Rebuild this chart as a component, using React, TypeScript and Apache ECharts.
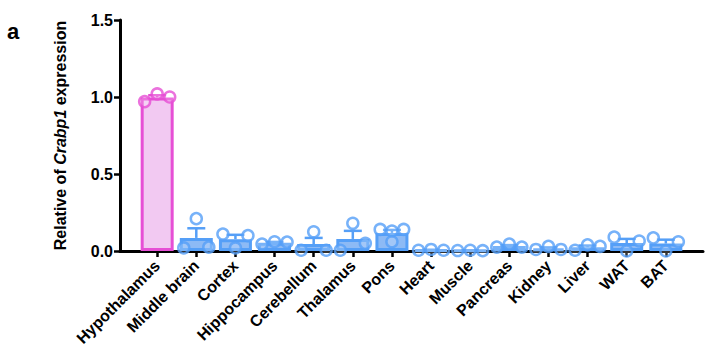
import React, { useEffect, useRef } from "react";
import * as echarts from "echarts";

const categories = [
  "Hypothalamus", "Middle brain", "Cortex", "Hippocampus", "Cerebellum", "Thalamus", "Pons",
  "Heart", "Muscle", "Pancreas", "Kidney", "Liver", "WAT", "BAT",
];

// individual replicate values (left, centre, right)
const hypothalamus = [0.97, 1.02, 1.0];
const middleBrain = [0.02, 0.21, 0.025];
const cortex = [0.11, 0.02, 0.1];
const hippocampus = [0.045, 0.06, 0.058];
const cerebellum = [0.005, 0.125, 0.005];
const thalamus = [0.005, 0.18, 0.05];
const pons = [0.14, 0.13, 0.06, 0.14];
const heart = [0.005, 0.01, 0.005];
const muscle = [0.003, 0.005, 0.002];
const pancreas = [0.025, 0.045, 0.025];
const kidney = [0.01, 0.03, 0.01];
const liver = [0.005, 0.04, 0.03];
const wat = [0.09, 0.0, 0.065];
const bat = [0.085, 0.0, 0.06];

const groups = [
  hypothalamus, middleBrain, cortex, hippocampus, cerebellum, thalamus, pons,
  heart, muscle, pancreas, kidney, liver, wat, bat,
];

const yTicks = [0, 0.5, 1.0, 1.5];

const PINK = "#e64fd5";
const PINK_FILL = "#f2c9f2";
const BLUE = "#559ff7";
const BLUE_FILL = "#8dbaf5";
const FONT = "Liberation Sans, Arial, sans-serif";

const mean = (a: number[]) => a.reduce((s, v) => s + v, 0) / a.length;
const sem = (a: number[]) => {
  const m = mean(a);
  const sd = Math.sqrt(a.reduce((s, v) => s + (v - m) * (v - m), 0) / (a.length - 1));
  return sd / Math.sqrt(a.length);
};
const spread = (n: number, j: number) => {
  if (n === 4) return [-0.3, 0, 0, 0.3][j];
  return n === 1 ? 0 : -0.32 + (0.64 * j) / (n - 1);
};

export default function App() {
  const ref = useRef<HTMLDivElement>(null);
  useEffect(() => {
    document.body.style.margin = "0";
    if (!ref.current) return;
    const chart = echarts.init(ref.current, undefined, { renderer: "svg" });
    const means = groups.map(mean);
    const sems = groups.map(sem);
    const barData = means.map((m, i) => ({
      value: [i, m],
      itemStyle: {
        color: i === 0 ? PINK_FILL : BLUE_FILL,
        borderColor: i === 0 ? PINK : BLUE,
        borderWidth: 3,
      },
    }));
    const errData = means.map((m, i) => [i, m, m + sems[i]]);
    const pts: any[] = [];
    groups.forEach((g, i) => {
      g.forEach((v, j) => {
        pts.push({
          value: [i + spread(g.length, j), v],
          itemStyle: { borderColor: i === 0 ? PINK : BLUE },
        });
      });
    });
    chart.setOption({
      animation: false,
      graphic: [
        {
          type: "text",
          left: 7,
          top: 20,
          style: { text: "a", font: `bold 22px ${FONT}`, fill: "#000" },
        },
      ],
      grid: { left: 120, right: 9, top: 20, bottom: 107, containLabel: false },
      xAxis: {
        type: "value",
        min: -0.95,
        max: 13.95,
        splitLine: { show: false },
        axisLine: { show: true, onZero: false, lineStyle: { color: "#000", width: 3 } },
        axisTick: {
          show: true,
          customValues: categories.map((_, i) => i),
          length: 6,
          lineStyle: { color: "#000", width: 2.5 },
        },
        axisLabel: {
          customValues: categories.map((_, i) => i),
          formatter: (v: number) => categories[Math.round(v)],
          rotate: 45,
          margin: 12,
          color: "#000",
          fontWeight: "bold",
          fontSize: 16,
          fontFamily: FONT,
        },
      },
      yAxis: {
        type: "value",
        min: 0,
        max: 1.5,
        interval: 0.5,
        splitLine: { show: false },
        axisLine: { show: true, onZero: false, lineStyle: { color: "#000", width: 3 } },
        axisTick: { show: true, length: 6, lineStyle: { color: "#000", width: 2.5 } },
        axisLabel: {
          customValues: yTicks,
          formatter: (v: number) => v.toFixed(1),
          color: "#000",
          fontWeight: "bold",
          fontSize: 16,
          fontFamily: FONT,
          margin: 7,
        },
        name: "{b|Relative of }{i|Crabp1}{b| expression}",
        nameLocation: "middle",
        nameGap: 52,
        nameTextStyle: {
          rich: {
            b: { fontWeight: "bold", fontSize: 16, fontFamily: FONT, color: "#000" },
            i: { fontWeight: "bold", fontStyle: "italic", fontSize: 16, fontFamily: FONT, color: "#000" },
          },
        },
      },
      series: [
        {
          type: "bar",
          data: barData,
          barWidth: 33,
          z: 2,
        },
        {
          type: "custom",
          z: 3,
          data: errData,
          renderItem: (params: any, api: any) => {
            const i = api.value(0);
            const lo = api.coord([i, api.value(1)]);
            const hi = api.coord([i, api.value(2)]);
            const half = 9;
            const color = i === 0 ? PINK : BLUE;
            const style = { stroke: color, lineWidth: 2.5 };
            return {
              type: "group",
              children: [
                { type: "line", shape: { x1: lo[0], y1: lo[1], x2: hi[0], y2: hi[1] }, style },
                { type: "line", shape: { x1: hi[0] - half, y1: hi[1], x2: hi[0] + half, y2: hi[1] }, style },
              ],
            };
          },
        },
        {
          type: "scatter",
          z: 4,
          data: pts,
          symbol: "circle",
          symbolSize: 11,
          itemStyle: { color: "rgba(255,255,255,0.25)", borderWidth: 2.5 },
        },
      ],
    });
    return () => chart.dispose();
  }, []);
  return <div ref={ref} style={{ width: 712, height: 358 }} />;
}
